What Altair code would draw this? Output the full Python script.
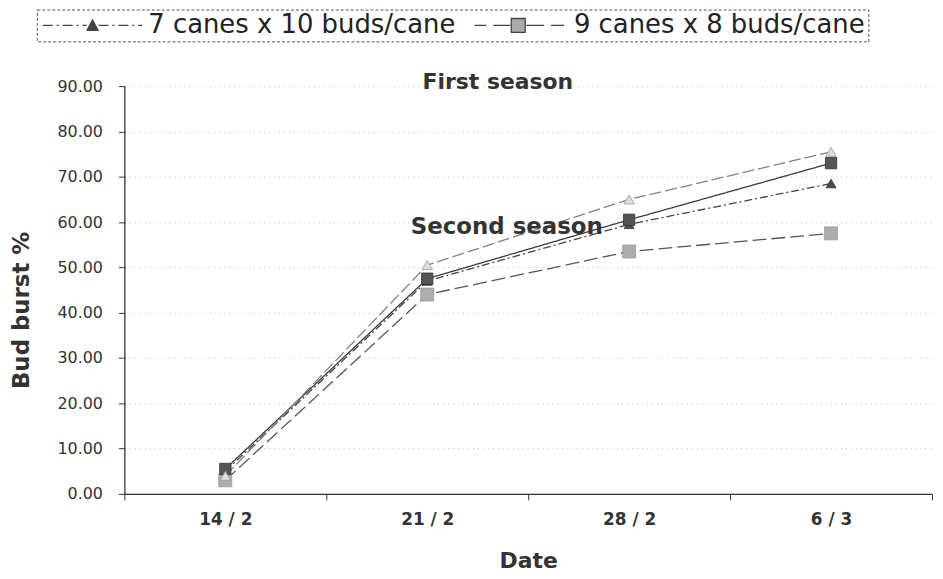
import altair as alt
import pandas as pd

# ---- data ----
dates = ["14 / 2", "21 / 2", "28 / 2", "6 / 3"]
s_7x10_dark = [5.0, 47.0, 59.5, 68.5]     # dark triangles, dash-dot
s_9x8_grey = [3.0, 44.0, 53.5, 57.5]      # grey squares, long dash
s_9x8_dark = [5.5, 47.5, 60.5, 73.0]      # dark squares, solid
s_7x10_light = [4.0, 50.5, 65.0, 75.5]    # light triangles, dashed
series_names = ["7x10 dark", "9x8 grey", "9x8 dark", "7x10 light"]
legend_labels = ["7 canes x 10 buds/cane", "9 canes x 8 buds/cane"]
y_ticks = [0, 10, 20, 30, 40, 50, 60, 70, 80, 90]
notes = ["First season", "Second season"]
note_values = [90.9, 59.0]

all_series = [s_7x10_dark, s_9x8_grey, s_9x8_dark, s_7x10_light]
rows = []
for name, vals in zip(series_names, all_series):
    for d, v in zip(dates, vals):
        rows.append({"series": name, "date": d, "value": v})
df = pd.DataFrame(rows)

styles = {
    "7x10 dark": dict(line="#444444", dash=[8, 3, 2, 3], shape="triangle-up", fill="#4a4a4a", stroke="#333333", size=100),
    "9x8 grey": dict(line="#555555", dash=[14, 5], shape="square", fill="#adadad", stroke="#999999", size=170),
    "9x8 dark": dict(line="#3a3a3a", dash=[1, 0], shape="square", fill="#555555", stroke="#333333", size=130),
    "7x10 light": dict(line="#808080", dash=[12, 4], shape="triangle-up", fill="#dddddd", stroke="#999999", size=110),
}

x_enc = alt.X(
    "date:N",
    sort=dates,
    bandPosition=0.5,
    scale=alt.Scale(type="band", domain=dates, paddingInner=0, paddingOuter=0),
    axis=alt.Axis(
        title="Date", labelAngle=0, tickBand="extent", grid=False,
        labelFont="DejaVu Sans", labelFontWeight="bold", labelFontSize=17, labelColor="#333",
        labelPadding=12, tickSize=6, tickColor="#333", domainColor="#333", domainWidth=1.3,
        titleFont="DejaVu Sans", titleFontWeight="bold", titleFontSize=22, titleColor="#333",
        titleY=67, titleBaseline="middle",
    ),
)
y_enc = alt.Y(
    "value:Q",
    scale=alt.Scale(domain=[0, 90], nice=False, zero=True),
    axis=alt.Axis(
        title="Bud burst %", values=y_ticks, format=".2f",
        labelFont="DejaVu Sans", labelFontSize=16, labelColor="#333", labelPadding=16,
        tickSize=6, tickColor="#333", domainColor="#333", domainWidth=1.3,
        grid=True, gridColor="#bbbbbb", gridDash=[1, 4], gridWidth=1,
        titleFont="DejaVu Sans", titleFontWeight="bold", titleFontSize=23, titleColor="#333",
        titleAngle=270, titleX=-103, titleY=225, titleAlign="center", titleBaseline="middle",
    ),
)

base = alt.Chart(df)
layers = []
for name in series_names:
    st = styles[name]
    sub = base.transform_filter(alt.datum.series == name)
    layers.append(
        sub.mark_line(strokeWidth=1.3, color=st["line"], strokeDash=st["dash"]).encode(x=x_enc, y=y_enc)
    )
for name in series_names:
    st = styles[name]
    sub = base.transform_filter(alt.datum.series == name)
    layers.append(
        sub.mark_point(filled=True, shape=st["shape"], size=st["size"], fill=st["fill"],
                       stroke=st["stroke"], strokeWidth=0.8, opacity=1).encode(x=x_enc, y=y_enc)
    )

# annotations
ann_df = pd.DataFrame({"label": notes, "value": note_values, "date": [dates[1], dates[1]]})
ann1 = alt.Chart(ann_df).transform_filter(alt.datum.label == notes[0]).mark_text(
    font="DejaVu Sans", fontWeight="bold", fontSize=22, color="#333", dx=71, baseline="middle"
).encode(x=x_enc, y=y_enc, text="label:N")
ann2 = alt.Chart(ann_df).transform_filter(alt.datum.label == notes[1]).mark_text(
    font="DejaVu Sans", fontWeight="bold", fontSize=23, color="#333", dx=80, baseline="middle"
).encode(x=x_enc, y=y_enc, text="label:N")

# legend (symbol paths: line pattern + marker); unit box is 22 px, path spans ~100 px
u = 1 / 11.0  # one pixel in path units
def h(a, b):
    return f"M{a*u:.3f},0H{b*u:.3f}"
path1 = (h(-50, -40) + h(-36, -34) + h(-30, -20) + h(-16, -14) + h(-10, -6)
         + h(6, 16) + h(20, 22) + h(26, 36) + h(40, 42) + h(46, 50)
         + f"M{-5.5*u:.3f},{5*u:.3f}L0,{-5.5*u:.3f}L{5.5*u:.3f},{5*u:.3f}Z")
path2 = (h(-44, -32) + h(-25, -8) + h(8, 26) + h(33, 46)
         + f"M{-7*u:.3f},{-7*u:.3f}H{7*u:.3f}V{7*u:.3f}H{-7*u:.3f}Z")
leg = alt.Legend(
    title=None, orient="none", legendX=-88, legendY=-77, direction="horizontal",
    labelFont="DejaVu Sans", labelFontSize=26, labelColor="#222", labelLimit=500,
    labelOffset=43, symbolOffset=40, columnPadding=10, symbolSize=484, symbolStrokeWidth=1.3,
    padding=3,
)
leg_df = pd.DataFrame({"treatment": legend_labels})
legend_layer = alt.Chart(leg_df).mark_point(
    filled=True, stroke="#444444", strokeWidth=1.3, opacity=1
).encode(
    color=alt.Color("treatment:N", scale=alt.Scale(domain=legend_labels, range=["#444444", "#aaaaaa"]), legend=leg),
    shape=alt.Shape("treatment:N", scale=alt.Scale(domain=legend_labels, range=[path1, path2]), legend=leg),
).transform_filter("false")

chart = alt.layer(*layers, ann1, ann2, legend_layer).properties(
    width=812, height=410,
    padding={"left": 117, "top": 77, "right": 3, "bottom": 84},
    autosize=alt.AutoSizeParams(type="none"),
    background="white",
).configure_view(stroke=None).configure_legend(strokeColor="#555555", strokeDash=[3, 2])

chart.save("out.html", embed_options={"renderer": "svg", "actions": False})
